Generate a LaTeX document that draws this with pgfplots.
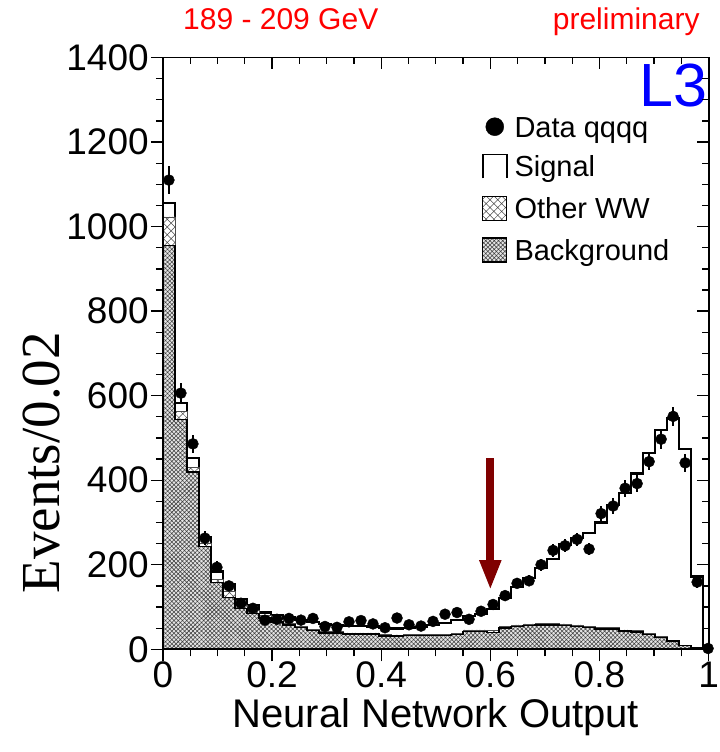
\documentclass[border=0pt]{standalone}
\usepackage{fontspec}
\setmainfont{Liberation Sans}
\newfontfamily\timesfont{Liberation Serif}
\usepackage{pgfplots}
\pgfplotsset{compat=1.18}
\usepackage{pgfplotstable}
\usetikzlibrary{patterns.meta,arrows.meta}

\definecolor{arrowred}{RGB}{128,0,0}
\definecolor{lthree}{RGB}{0,0,255}
\definecolor{prelred}{RGB}{255,0,0}

\tikzset{
 owwfill/.style={fill=white, postaction={pattern={Hatch[angle=45,distance=5.5bp,line width=0.5bp]}, pattern color=black!70}},
 bgfill/.style={fill=black!10, postaction={pattern={Hatch[angle=45,distance=3bp,line width=0.55bp]}, pattern color=black!75}},
}

% histogram: left bin edge, signal total, bg + other WW, bg
\pgfplotstableread{
xl tot oww bg
0.000 1055 1023 955
0.022 582 562 544
0.044 453 431 420
0.066 266 252 243
0.088 184 166 158
0.110 154 138 122
0.132 119 105 96
0.154 104 92 85
0.176 87 80 74
0.198 81 70 65
0.220 75 62 58
0.242 70 55 51
0.264 65 47 44
0.286 60 42 39
0.308 58 42 39
0.330 56 39 36
0.352 55 39 36
0.374 54 39 36
0.396 50 35 32
0.418 49 34 31
0.440 51 36 33
0.462 52 36 33
0.484 57 36 33
0.506 62 36 33
0.528 70 38 35
0.550 78 46 42
0.572 84 46 42
0.594 96 44 40
0.616 121 54 50
0.638 147 58 54
0.660 168 60 56
0.682 193 61 57
0.704 214 61 57
0.726 248 60 56
0.748 263 58 54
0.770 276 55 51
0.792 300 51 48
0.814 341 51 48
0.836 369 46 43
0.858 416 44 41
0.880 465 38 35
0.902 519 30 28
0.924 546 22 20
0.946 473 10 9
0.968 172 4 3
0.990 2 0 0
1.012 2 0 0
}\hist

% data: bin centre, events, error
\pgfplotstableread{
xc d e
0.011 1110 33
0.033 606 25
0.055 486 22
0.077 263 16
0.099 194 14
0.121 150 12
0.143 109 10
0.165 97 10
0.187 69 8
0.209 71 8
0.231 73 9
0.253 69 8
0.275 73 9
0.297 54 7
0.319 52 7
0.341 65 8
0.363 68 8
0.385 60 8
0.407 51 7
0.429 74 9
0.451 58 8
0.473 55 7
0.495 66 8
0.517 83 9
0.539 87 9
0.561 71 8
0.583 90 9
0.605 106 10
0.627 127 11
0.649 156 12
0.671 162 13
0.693 200 14
0.715 234 15
0.737 245 16
0.759 260 16
0.781 237 15
0.803 321 18
0.825 339 18
0.847 381 20
0.869 392 20
0.891 444 21
0.913 497 22
0.935 551 23
0.957 441 21
0.979 159 13
0.999 2 1
}\datatab

\begin{document}
\begin{tikzpicture}
\begin{axis}[
  name=ax,
  scale only axis, width=545.7bp, height=591.8bp,
  xmin=0, xmax=1, ymin=0, ymax=1400,
  xtick={0,0.2,0.4,0.6,0.8,1}, ytick={0,200,...,1400},
  minor x tick num=3, minor y tick num=3,
  xtick pos=bottom, ytick pos=left,
  tick align=outside,
  major tick length=12bp, minor tick length=7bp,
  every tick/.style={black, line width=1.3bp},
  axis line style={line width=1.8bp},
  tick label style={font=\fontsize{37bp}{37bp}\selectfont},
  xticklabel style={inner sep=0.5bp},
  yticklabel style={inner sep=2bp},
  /pgf/number format/assume math mode=true,
  /pgf/number format/1000 sep={},
  axis on top,
  clip mode=individual,
  xlabel={Neural Network Output},
  xlabel style={font=\fontsize{40bp}{40bp}\selectfont, at={(rel axis cs:0.5,-0.1320)}, anchor=base},
  ylabel={Events/0.02},
  ylabel style={font=\timesfont\fontsize{55bp}{55bp}\selectfont, at={(rel axis cs:-0.2217,0.315)}, anchor=center},
  legend style={draw=none, fill=none, at={(rel axis cs:0.5848,0.9008)}, anchor=north west,
    inner sep=0pt, outer sep=0pt, font=\fontsize{29bp}{29bp}\selectfont,
    row sep=16.5bp, column sep=7bp, nodes={inner sep=0pt, text height=21bp, text depth=0pt}},
  legend cell align=left,
]
\addplot[forget plot, const plot, draw=black, line width=2.2bp, fill=white] table[x=xl, y=tot]{\hist} \closedcycle;
\addplot[forget plot, const plot, draw=black!70, line width=0.5bp, owwfill] table[x=xl, y=oww]{\hist} \closedcycle;
\addplot[forget plot, const plot, draw=black, line width=1.5bp, bgfill] table[x=xl, y=bg]{\hist} \closedcycle;
\addplot[forget plot, only marks, mark=*, mark size=5.5bp, black,
  error bars/.cd, y dir=both, y explicit, error mark=none,
  error bar style={line width=2.4bp, black}] table[x=xc, y=d, y error=e]{\datatab};

\draw[arrowred, line width=8bp, -{Triangle[length=30bp,width=20bp]}] (axis cs:0.6,452) -- (axis cs:0.6,140);

\node[anchor=base west, inner sep=0pt, text=prelred, font=\fontsize{30bp}{30bp}\selectfont] at (rel axis cs:0.0368,1.0465) {189 - 209 GeV};
\node[anchor=base east, inner sep=0pt, text=prelred, font=\fontsize{30bp}{30bp}\selectfont] at (rel axis cs:0.9838,1.0465) {preliminary};
\node[anchor=north east, inner sep=0pt, text=lthree, font=\fontsize{61bp}{61bp}\selectfont] at (rel axis cs:0.998,0.990) {L3};

\addlegendimage{legend image code/.code={\fill[black] (12bp,0bp) circle (9bp);}}
\addlegendentry{Data qqqq}
\addlegendimage{legend image code/.code={\draw[black, line width=1.5bp] (0bp,-12bp) -- (0bp,12bp) -- (24bp,12bp) -- (24bp,-12bp);}}
\addlegendentry{Signal}
\addlegendimage{legend image code/.code={\draw[black, line width=1.2bp, owwfill] (0bp,-12bp) rectangle (24bp,12bp);}}
\addlegendentry{Other WW}
\addlegendimage{legend image code/.code={\draw[black, line width=1.2bp, bgfill] (0bp,-12bp) rectangle (24bp,12bp);}}
\addlegendentry{Background}
\end{axis}
\begin{axis}[
  scale only axis, width=545.7bp, height=591.8bp,
  xmin=0, xmax=1, ymin=0, ymax=1400,
  xtick={0,0.2,0.4,0.6,0.8,1}, ytick={0,200,...,1400},
  minor x tick num=3, minor y tick num=3,
  xtick pos=top, ytick pos=right,
  tick align=inside,
  major tick length=12bp, minor tick length=7bp,
  every tick/.style={black, line width=1.3bp},
  axis line style={line width=1.8bp},
  xticklabels={}, yticklabels={},
]
\addplot[draw=none] coordinates {(0.5,0)};
\end{axis}
\path ([shift={(-162.9bp,-102.7bp)}]ax.south west) rectangle ([shift={(6.4bp,57.5bp)}]ax.north east);
\end{tikzpicture}
\end{document}
